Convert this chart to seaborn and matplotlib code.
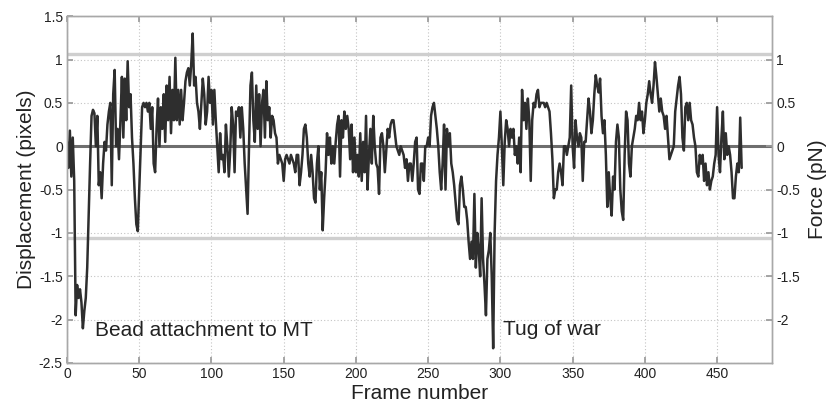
import numpy as np
import pandas as pd
import matplotlib
matplotlib.use("Agg")
import matplotlib.pyplot as plt
import seaborn as sns

# Displacement (pixels) per frame
displacement = [
    0.05, -0.25, 0.18, -0.35, 0.1, -0.4, -1.95, -1.6, -1.75, -1.65,
    -1.8, -2.1, -1.9, -1.75, -1.4, -0.8, -0.2, 0.35, 0.42, 0.38,
    0.0, 0.35, -0.45, -0.3, -0.6, -0.2, 0.05, -0.05, 0.25, 0.4,
    0.5, -0.45, 0.6, 0.88, 0.0, 0.2, -0.15, 0.3, 0.8, 0.1,
    0.78, 0.3, 0.98, 0.45, 0.6, 0.1, -0.2, -0.6, -0.9, -0.98,
    -0.5, 0.0, 0.45, 0.5, 0.45, 0.5, 0.4, 0.5, 0.2, 0.45,
    -0.2, -0.3, 0.2, 0.55, 0.0, 0.45, 0.2, 0.6, 0.05, 0.7,
    0.3, 0.8, 0.15, 0.65, 0.3, 1.02, 0.3, 0.65, 0.25, 0.65,
    0.3, 0.5, 0.75, 0.85, 0.9, 0.7, 0.95, 1.3, 0.7, 0.8,
    0.5, 0.4, 0.2, 0.5, 0.78, 0.6, 0.25, 0.4, 0.8, 0.5,
    0.65, 0.25, 0.65, 0.3, 0.0, -0.3, 0.15, -0.15, -0.1, -0.3,
    0.25, 0.0, -0.35, -0.05, 0.45, 0.25, -0.3, 0.4, 0.35, 0.45,
    0.1, 0.45, 0.2, -0.2, -0.5, -0.78, 0.0, 0.7, 0.85, 0.3,
    0.05, 0.7, 0.2, 0.6, 0.0, 0.5, 0.65, 0.1, 0.75, 0.3,
    0.45, 0.1, 0.35, 0.3, 0.15, 0.1, -0.2, -0.1, -0.15, -0.2,
    -0.4, -0.15, -0.1, -0.15, -0.2, -0.1, -0.15, -0.2, -0.3, -0.1,
    -0.1, -0.45, -0.3, -0.1, 0.2, 0.25, 0.1, -0.2, -0.35, -0.1,
    -0.3, -0.6, -0.65, -0.2, 0.0, -0.5, -0.3, -0.97, -0.6, -0.3,
    0.15, -0.1, 0.1, -0.2, 0.0, -0.2, 0.05, 0.25, 0.35, -0.35,
    0.3, 0.1, 0.4, 0.2, 0.35, 0.2, -0.15, 0.25, -0.3, 0.1,
    -0.3, -0.1, -0.35, 0.15, -0.4, 0.05, -0.3, 0.35, -0.5, -0.1,
    0.2, -0.2, 0.35, 0.0, -0.2, -0.25, -0.55, 0.1, 0.15, 0.0,
    -0.3, -0.05, 0.2, 0.1, 0.25, 0.3, 0.3, 0.15, 0.0, -0.05,
    -0.1, 0.0, -0.05, -0.1, -0.25, -0.15, -0.4, -0.2, -0.2, -0.4,
    -0.2, 0.05, 0.1, -0.5, -0.55, -0.2, -0.2, -0.4, 0.0, 0.0,
    0.1, 0.0, 0.35, 0.45, 0.5, 0.35, 0.2, 0.0, -0.3, -0.5,
    -0.2, 0.25, -0.5, 0.2, 0.0, 0.15, -0.2, -0.3, -0.45, -0.65,
    -0.85, -0.9, -0.45, -0.35, -0.5, -0.7, -0.7, -0.85, -1.1, -1.3,
    -1.1, -1.3, -0.55, -1.4, -1.0, -1.2, -1.5, -0.6, -1.3, -1.6,
    -1.95, -1.3, -1.2, -1.0, -1.5, -2.33, -1.0, -0.4, -0.1, 0.1,
    0.4, 0.0, -0.45, 0.05, 0.3, 0.2, 0.0, 0.2, 0.1, 0.2,
    -0.1, 0.0, -0.2, 0.1, -0.3, 0.65, 0.3, 0.5, 0.2, 0.55,
    0.3, -0.4, 0.3, 0.5, 0.45, 0.6, 0.65, 0.45, 0.5, 0.5,
    0.5, 0.45, 0.5, 0.45, 0.4, 0.15, -0.15, -0.6, -0.5, -0.5,
    -0.3, -0.2, -0.3, -0.45, 0.0, 0.0, -0.1, 0.0, 0.1, 0.7,
    0.0, -0.25, 0.3, 0.1, 0.0, 0.15, 0.1, -0.4, 0.05, 0.05,
    0.3, 0.55, 0.4, 0.15, 0.3, 0.6, 0.82, 0.7, 0.62, 0.78,
    0.35, 0.15, 0.3, -0.1, -0.7, -0.3, -0.6, -0.8, -0.35, -0.5,
    0.05, 0.25, 0.1, -0.5, -0.75, -0.85, -0.1, 0.4, 0.3, -0.2,
    -0.35, 0.0, 0.1, 0.2, 0.35, 0.3, 0.5, 0.3, 0.4, 0.15,
    0.3, 0.5, 0.6, 0.75, 0.6, 0.5, 0.7, 0.97, 0.8, 0.6,
    0.4, 0.55, 0.4, 0.35, 0.2, 0.35, 0.1, -0.15, -0.1, -0.05,
    0.0, 0.4, 0.55, 0.7, 0.8, 0.6, 0.1, -0.05, 0.45, 0.5,
    0.3, 0.5, 0.3, 0.25, 0.1, 0.0, -0.3, -0.35, -0.1, -0.2,
    -0.1, -0.4, -0.2, -0.45, -0.3, -0.5, -0.4, -0.35, -0.2, -0.1,
    0.45, -0.1, -0.3, 0.1, 0.4, -0.15, 0.15, -0.1, 0.0, -0.1,
    -0.3, -0.6, -0.6, -0.35, -0.2, -0.3, 0.33, -0.25,
]
frames = list(range(len(displacement)))

threshold = 1.06
left_ticks = [-2.5, -2, -1.5, -1, -0.5, 0, 0.5, 1, 1.5]
right_ticks = [-2, -1.5, -1, -0.5, 0, 0.5, 1]
x_ticks = [0, 50, 100, 150, 200, 250, 300, 350, 400, 450]

df = pd.DataFrame({"Frame": frames, "Displacement": displacement})

sns.set_theme(style="ticks")
plt.rcParams["font.family"] = ["Liberation Sans", "DejaVu Sans"]

fig = plt.figure(figsize=(8.27, 4.04), dpi=100)
ax = fig.add_axes([0.081, 0.1015, 0.8525, 0.8585])

ax.axhline(threshold, color="#cfcfcf", lw=2.4, zorder=1)
ax.axhline(-threshold, color="#cfcfcf", lw=2.4, zorder=1)
ax.axhline(0, color="#6e6e6e", lw=2.2, zorder=1)

sns.lineplot(data=df, x="Frame", y="Displacement", ax=ax, color="#2e2e2e",
             lw=1.8, zorder=3)

ax.set_xlim(0, 488)
ax.set_ylim(-2.5, 1.5)
ax.set_xticks(x_ticks)
ax.set_yticks(left_ticks)
ax.set_yticklabels([f"{t:g}" for t in left_ticks])
ax.grid(True, linestyle=(0, (1, 2)), color="#c4c4c4", lw=0.8)
ax.set_axisbelow(True)
ax.tick_params(direction="in", length=4, color="#9a9a9a", labelsize=10,
               labelcolor="#222222", top=True, right=False, pad=3)
for s in ax.spines.values():
    s.set_color("#a8a8a8")
    s.set_linewidth(1.0)

ax.set_xlabel("Frame number", fontsize=15, color="#222222", labelpad=2)
ax.set_ylabel("Displacement (pixels)", fontsize=15, color="#222222", labelpad=2)

ax2 = ax.twinx()
ax2.set_ylim(-2.5, 1.5)
ax2.set_yticks(right_ticks)
ax2.set_yticklabels([f"{t:g}" for t in right_ticks])
ax2.tick_params(direction="in", length=4, color="#9a9a9a", labelsize=10,
                labelcolor="#222222", pad=3)
for s in ax2.spines.values():
    s.set_color("#a8a8a8")
    s.set_linewidth(1.0)
ax2.set_ylabel("Force (pN)", fontsize=15, color="#222222", labelpad=6)
ax2.grid(False)

ax.text(19.5, -2.13, "Bead attachment to MT", fontsize=15, color="#222222",
        va="center", ha="left", zorder=4)
ax.text(301.5, -2.11, "Tug of war", fontsize=15, color="#222222",
        va="center", ha="left", zorder=4)

fig.savefig("out.png", dpi=100)
